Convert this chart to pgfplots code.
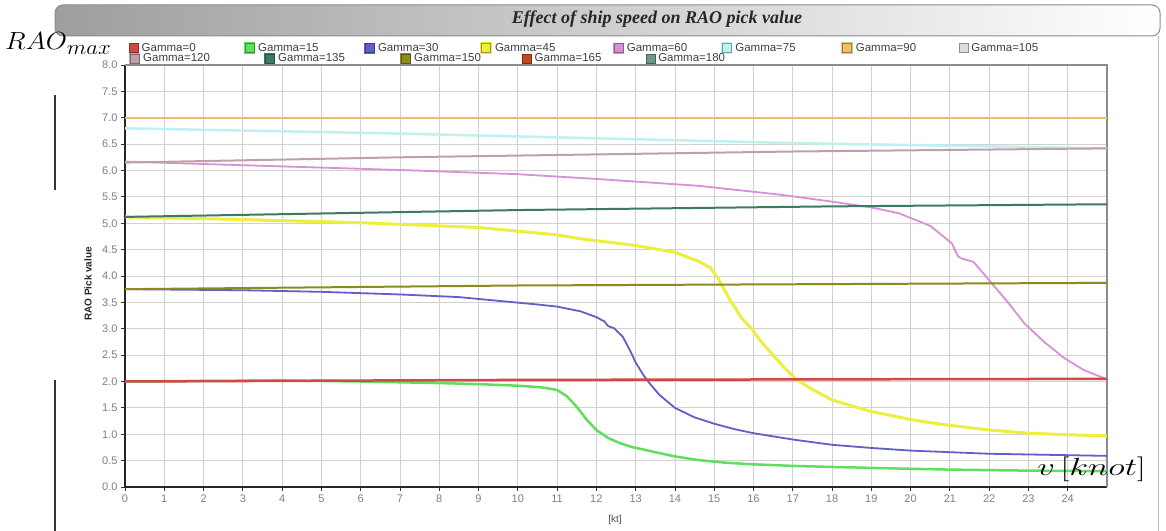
\documentclass[border=0pt]{standalone}
\usepackage{fontspec}
\setmainfont{Liberation Sans}
\newfontfamily\titlefont{Liberation Serif}
\usepackage{pgfplots}
\pgfplotsset{compat=1.18}
\definecolor{g0}{HTML}{D04848}
\definecolor{g15}{HTML}{5EE05E}
\definecolor{g30}{HTML}{6060C8}
\definecolor{g45}{HTML}{EEEE40}
\definecolor{g60}{HTML}{D890D8}
\definecolor{g75}{HTML}{C0F0F0}
\definecolor{g90}{HTML}{E8C070}
\definecolor{g105}{HTML}{DCDCDC}
\definecolor{g120}{HTML}{C0A0A8}
\definecolor{g135}{HTML}{3E7A62}
\definecolor{g150}{HTML}{8C8C1E}
\definecolor{g165}{HTML}{C04A1A}
\definecolor{g180}{HTML}{6A9A8A}
\pgfplotsset{
  common/.style={
    width=982bp, height=422bp, scale only axis,
    at={(125bp,44bp)}, anchor=south west,
    xmin=0, xmax=25, ymin=0, ymax=8,
    legend image code/.code={
      \fill[##1] (0bp,-4.5bp) rectangle (9bp,4.5bp);
      \draw[black, opacity=0.35, line width=0.7bp] (0bp,-4.5bp) rectangle (9bp,4.5bp);
      \path (12bp,0bp);},
    legend cell align=left,
  },
  leg/.style={legend style={draw=none, fill=none, font=\fontsize{11.5bp}{12bp}\selectfont,
      text=black!75, column sep=0pt, at={(0,1)}, anchor=north west, xshift=1bp,
      nodes={inner sep=0pt, text height=8bp, text depth=2bp}}},
}
\begin{document}
\begin{tikzpicture}
\useasboundingbox (0,0) rectangle (1166bp,531bp);
\fill[white] (0,0) rectangle (1166bp,531bp);
% panel
\shade[left color=black!38, right color=white, rounded corners=8bp] (55bp,495bp) rectangle (1160bp,526bp);
\draw[black!45, line width=1bp, rounded corners=8bp] (55bp,495bp) rectangle (1160bp,526bp);
\draw[black!80, line width=1.5bp] (55bp,436bp) -- (55bp,341bp);
\draw[black!80, line width=1.5bp] (55bp,151bp) -- (55bp,0bp);
\draw[black!25, line width=1bp] (1158bp,495bp) -- (1158bp,0bp);
\node[font=\fontsize{18bp}{20bp}\selectfont\titlefont\bfseries\itshape, text=black!85] at (657bp,512bp) {Effect of ship speed on RAO pick value};

\begin{axis}[common, leg, legend columns=8,
  legend style={yshift=25bp},
  axis x line*=bottom, axis y line*=left,
  axis line style={black!85, line width=2.2bp},
  xtick={0,...,24}, ytick={0,0.5,...,8},
  yticklabel style={/pgf/number format/fixed, /pgf/number format/fixed zerofill, /pgf/number format/precision=1},
  /pgf/number format/assume math mode=true,
  ticklabel style={font=\fontsize{11bp}{12bp}\selectfont, text=black!50},
  tick align=outside, major tick length=4bp,
  tick style={black!80, line width=0.8bp},
  grid=major, major grid style={black!18, line width=0.8bp},
  clip=false,
]
\draw[black!45, line width=1.2bp] (axis cs:0,8) -- (axis cs:25,8) -- (axis cs:25,0);
\addlegendimage{color=g0}
\addlegendentry{\makebox[102bp][l]{Gamma=0}}
\addplot[color=g15, line width=2.5bp] coordinates {
(0,2.00) (2,2.01) (4,2.02) (6,2.00) (8,1.97) (9,1.95) (10,1.92) (10.6,1.89) (11.0,1.84)
(11.25,1.72) (11.5,1.52) (11.75,1.28) (12.0,1.08) (12.3,0.93) (12.6,0.83) (12.9,0.76)
(13.5,0.66) (14.0,0.58) (14.6,0.51) (15.3,0.46) (16,0.43) (17,0.40) (18,0.38) (19.7,0.35)
(21,0.33) (23,0.31) (25,0.30)};
\addlegendentry{\makebox[106bp][l]{Gamma=15}}
\addplot[color=g30, line width=1.8bp] coordinates {
(0,3.75) (3,3.73) (5,3.70) (7,3.65) (8.5,3.60) (9.5,3.53) (10.5,3.46) (11,3.42) (11.6,3.33)
(12.0,3.22) (12.2,3.14) (12.3,3.05) (12.45,3.01) (12.67,2.85) (12.85,2.60) (13.0,2.36)
(13.2,2.12) (13.35,1.97) (13.6,1.75) (14.0,1.50) (14.5,1.32) (15.0,1.20) (15.5,1.10)
(16.0,1.02) (17,0.90) (18,0.80) (19,0.74) (20,0.69) (22,0.63) (25,0.59)};
\addlegendentry{\makebox[102bp][l]{Gamma=30}}
\addplot[color=g45, line width=3bp] coordinates {
(0,5.12) (3,5.07) (6,5.01) (9,4.92) (11,4.78) (11.65,4.70) (12.9,4.59) (14.0,4.45) (14.6,4.28)
(14.9,4.16) (15.1,3.95) (15.4,3.55) (15.7,3.20) (15.95,3.00) (16.2,2.75) (16.5,2.50)
(16.8,2.25) (17.1,2.03) (17.5,1.85) (18,1.65) (19,1.43) (20,1.28) (20.5,1.22) (21,1.17)
(22,1.08) (23,1.02) (24,0.99) (25,0.97)};
\addlegendentry{\makebox[118bp][l]{Gamma=45}}
\addplot[color=g60, line width=1.8bp] coordinates {
(0,6.17) (3,6.10) (7,6.01) (10,5.93) (12,5.84) (14.6,5.71) (16.7,5.54) (18,5.41) (19,5.30)
(19.7,5.19) (20.5,4.95) (21.05,4.62) (21.2,4.38) (21.3,4.33) (21.6,4.27) (22,3.92)
(22.5,3.48) (22.9,3.10) (23.4,2.75) (23.9,2.45) (24.4,2.22) (25,2.04)};
\addlegendentry{\makebox[94bp][l]{Gamma=60}}
\addplot[color=g75, line width=2.5bp] coordinates {
(0,6.80) (7,6.70) (17,6.52) (25,6.42)};
\addlegendentry{\makebox[106bp][l]{Gamma=75}}
\addplot[color=g90, line width=2.5bp] coordinates {
(0,7.00) (10,7.00) (25,7.00)};
\addlegendentry{\makebox[103bp][l]{Gamma=90}}
\addlegendimage{color=g105}
\addlegendentry{Gamma=105}
\end{axis}

\begin{axis}[common, leg, legend columns=5, hide axis,
  legend style={yshift=14bp}]
\addplot[color=g120, line width=2bp] coordinates {
(0,6.15) (7,6.25) (17,6.36) (25,6.42)};
\addlegendentry{\makebox[121bp][l]{Gamma=120}}
\addplot[color=g135, line width=2bp] coordinates {
(0,5.12) (10,5.25) (18,5.32) (25,5.36)};
\addlegendentry{\makebox[122bp][l]{Gamma=135}}
\addplot[color=g150, line width=2bp] coordinates {
(0,3.75) (10,3.82) (25,3.87)};
\addlegendentry{\makebox[108bp][l]{Gamma=150}}
\addlegendimage{color=g165}
\addlegendentry{\makebox[111bp][l]{Gamma=165}}
\addlegendimage{color=g180}
\addlegendentry{Gamma=180}
\addplot[color=g0, line width=2.5bp, forget plot] coordinates {
(0,2.00) (10,2.03) (25,2.05)};
\end{axis}

\node[rotate=90, font=\fontsize{10bp}{12bp}\selectfont\bfseries, text=black!85] at (88bp,247bp) {RAO Pick value};
\node[font=\fontsize{10bp}{12bp}\selectfont, text=black!70] at (615bp,11bp) {[kt]};
\node[anchor=base west, inner sep=0pt, xscale=1.1, font=\fontsize{25bp}{28bp}\selectfont, transform shape] at (5bp,481bp) {$RAO$\raisebox{-5bp}{\fontsize{20bp}{22bp}\selectfont$max$}};
\node[anchor=base west, inner sep=0pt, xscale=1.4, font=\fontsize{28bp}{30bp}\selectfont, transform shape] at (1037bp,55bp) {$v\,[knot]$};
\end{tikzpicture}
\end{document}
